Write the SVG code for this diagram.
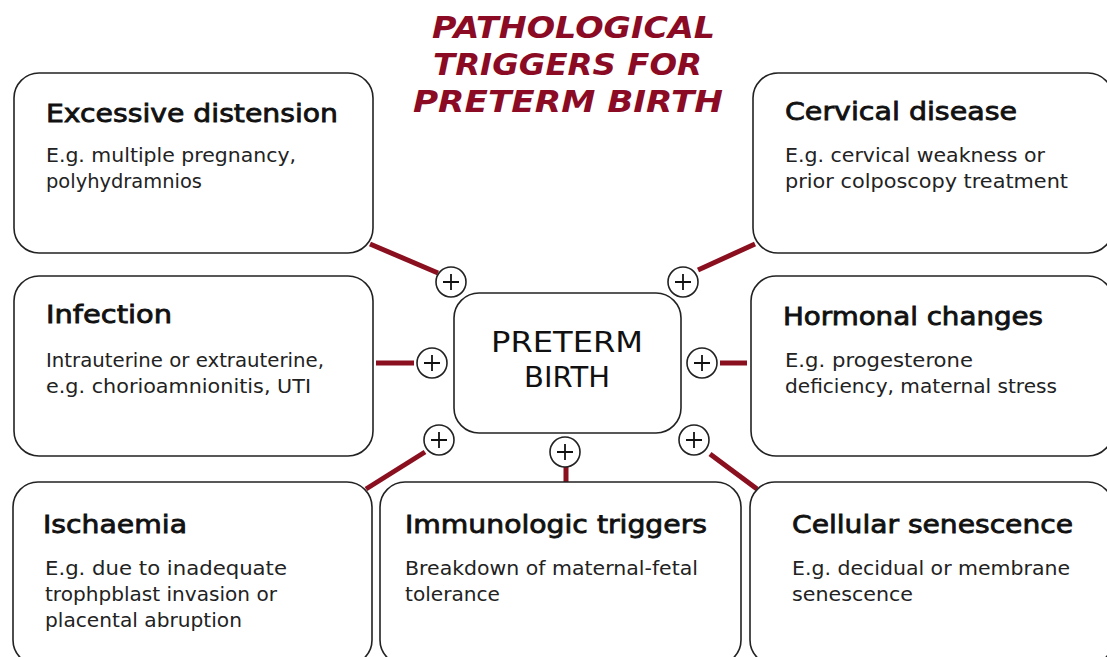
<svg xmlns="http://www.w3.org/2000/svg" width="1107" height="657" viewBox="0 0 1107 657">
<style>
.box{fill:#fff;stroke:#222;stroke-width:1.6}
.h{font-family:"DejaVu Sans",Verdana,sans-serif;font-size:25px;font-weight:normal;fill:#111;stroke:#111;stroke-width:0.8}
.b{font-family:"DejaVu Sans",Verdana,sans-serif;font-size:19px;fill:#222}
.c{font-family:"DejaVu Sans",Verdana,sans-serif;font-size:29px;fill:#111}
.t{font-family:"DejaVu Sans",Verdana,sans-serif;font-size:30px;font-weight:bold;font-style:italic;fill:#8b0a24}
.con{stroke:#8a0f1f;stroke-width:5;fill:none}
.plus circle{fill:#fff;stroke:#222;stroke-width:1.6}
.plus path{stroke:#111;stroke-width:1.8;fill:none}
</style>
<rect width="1107" height="657" fill="#fff"/>
<g id="title">
<text class="t" x="432" y="38" textLength="283" lengthAdjust="spacingAndGlyphs">PATHOLOGICAL</text>
<text class="t" x="433" y="75" textLength="269" lengthAdjust="spacingAndGlyphs">TRIGGERS FOR</text>
<text class="t" x="413" y="112" textLength="310" lengthAdjust="spacingAndGlyphs">PRETERM BIRTH</text>
</g>
<g id="connectors">
<line class="con" x1="370" y1="244" x2="438" y2="273"/>
<line class="con" x1="698" y1="270" x2="755" y2="244"/>
<line class="con" x1="376" y1="363" x2="414" y2="363"/>
<line class="con" x1="720" y1="363" x2="747" y2="363"/>
<line class="con" x1="366" y1="489" x2="425" y2="452"/>
<line class="con" x1="566" y1="467" x2="566" y2="482"/>
<line class="con" x1="710" y1="454" x2="757" y2="489"/>
</g>
<g id="n-distension">
<rect class="box" x="14" y="73" width="359" height="180" rx="25"/>
<text class="h" x="46" y="122" textLength="292" lengthAdjust="spacingAndGlyphs">Excessive distension</text>
<text class="b" x="46" y="162" textLength="250" lengthAdjust="spacingAndGlyphs">E.g. multiple pregnancy,</text>
<text class="b" x="46" y="188" textLength="156" lengthAdjust="spacingAndGlyphs">polyhydramnios</text>
</g>
<g id="n-cervical">
<rect class="box" x="753" y="73" width="360" height="180" rx="25"/>
<text class="h" x="785" y="120" textLength="232" lengthAdjust="spacingAndGlyphs">Cervical disease</text>
<text class="b" x="785" y="162" textLength="260" lengthAdjust="spacingAndGlyphs">E.g. cervical weakness or</text>
<text class="b" x="785" y="188" textLength="283" lengthAdjust="spacingAndGlyphs">prior colposcopy treatment</text>
</g>
<g id="n-infection">
<rect class="box" x="14" y="276" width="359" height="180" rx="25"/>
<text class="h" x="46" y="323" textLength="126" lengthAdjust="spacingAndGlyphs">Infection</text>
<text class="b" x="46" y="367" textLength="278" lengthAdjust="spacingAndGlyphs">Intrauterine or extrauterine,</text>
<text class="b" x="46" y="393" textLength="265" lengthAdjust="spacingAndGlyphs">e.g. chorioamnionitis, UTI</text>
</g>
<g id="n-hormonal">
<rect class="box" x="751" y="276" width="362" height="180" rx="25"/>
<text class="h" x="783" y="325" textLength="260" lengthAdjust="spacingAndGlyphs">Hormonal changes</text>
<text class="b" x="785" y="367" textLength="188" lengthAdjust="spacingAndGlyphs">E.g. progesterone</text>
<text class="b" x="785" y="393" textLength="272" lengthAdjust="spacingAndGlyphs">deficiency, maternal stress</text>
</g>
<g id="n-center">
<rect class="box" x="454" y="293" width="227" height="140" rx="25"/>
<text class="c" x="567" y="352" text-anchor="middle" textLength="152" lengthAdjust="spacingAndGlyphs">PRETERM</text>
<text class="c" x="567" y="387" text-anchor="middle">BIRTH</text>
</g>
<g id="n-ischaemia">
<rect class="box" x="13" y="482" width="359" height="183" rx="25"/>
<text class="h" x="43" y="533" textLength="144" lengthAdjust="spacingAndGlyphs">Ischaemia</text>
<text class="b" x="45" y="575" textLength="242" lengthAdjust="spacingAndGlyphs">E.g. due to inadequate</text>
<text class="b" x="45" y="601" textLength="232" lengthAdjust="spacingAndGlyphs">trophpblast invasion or</text>
<text class="b" x="45" y="627" textLength="197" lengthAdjust="spacingAndGlyphs">placental abruption</text>
</g>
<g id="n-immunologic">
<rect class="box" x="380" y="482" width="361" height="183" rx="25"/>
<text class="h" x="405" y="533" textLength="302" lengthAdjust="spacingAndGlyphs">Immunologic triggers</text>
<text class="b" x="405" y="575" textLength="293" lengthAdjust="spacingAndGlyphs">Breakdown of maternal-fetal</text>
<text class="b" x="405" y="601" textLength="95" lengthAdjust="spacingAndGlyphs">tolerance</text>
</g>
<g id="n-senescence">
<rect class="box" x="750" y="482" width="363" height="183" rx="25"/>
<text class="h" x="792" y="533" textLength="281" lengthAdjust="spacingAndGlyphs">Cellular senescence</text>
<text class="b" x="792" y="575" textLength="278" lengthAdjust="spacingAndGlyphs">E.g. decidual or membrane</text>
<text class="b" x="792" y="601" textLength="121" lengthAdjust="spacingAndGlyphs">senescence</text>
</g>
<g id="plus-signs">
<g class="plus"><circle cx="451" cy="282" r="15"/><path d="M443 282h16M451 274v16"/></g>
<g class="plus"><circle cx="683" cy="282" r="15"/><path d="M675 282h16M683 274v16"/></g>
<g class="plus"><circle cx="432" cy="363" r="15"/><path d="M424 363h16M432 355v16"/></g>
<g class="plus"><circle cx="702" cy="363" r="15"/><path d="M694 363h16M702 355v16"/></g>
<g class="plus"><circle cx="439" cy="440" r="15"/><path d="M431 440h16M439 432v16"/></g>
<g class="plus"><circle cx="565" cy="452" r="15"/><path d="M557 452h16M565 444v16"/></g>
<g class="plus"><circle cx="694" cy="440" r="15"/><path d="M686 440h16M694 432v16"/></g>
</g>
</svg>
